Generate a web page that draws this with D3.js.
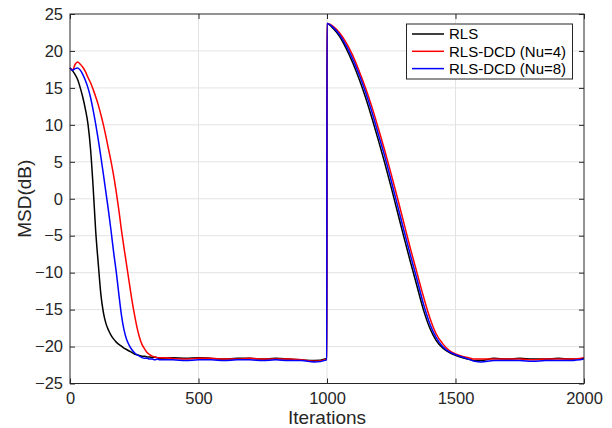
<!DOCTYPE html>
<html>
<head>
<meta charset="utf-8">
<script src="https://cdn.jsdelivr.net/npm/d3@7"></script>
<style>
  body { margin: 0; background: #fff; }
  svg { font-family: "Liberation Sans", Arial, Helvetica, sans-serif; }
</style>
</head>
<body>
<div id="chart"></div>
<script>
// iteration grid (shared by the three curves)
const iterations = [
    0, 10, 20, 30, 40, 50, 60, 70, 80, 90, 100, 110, 120, 130, 140, 150, 160, 170, 180, 190,
    200, 210, 220, 230, 240, 250, 260, 270, 280, 290, 300, 310, 320, 330, 340, 350,
    400, 450, 500, 550, 600, 650, 700, 750, 800, 850, 900, 950, 999,
    1000, 1025, 1050, 1075, 1100, 1125, 1150, 1175, 1200, 1225, 1250, 1275, 1300, 1325, 1350,
    1375, 1400, 1425, 1450, 1475, 1500, 1525, 1550, 1575, 1600,
    1650, 1700, 1750, 1800, 1850, 1900, 1950, 2000
];

const rls = [
    17.7, 17.3, 16.8, 16.1, 15.0, 13.7, 12.1, 10.1, 6.7, 1.6, -4.4, -8.8, -12.9, -15.4, -16.9, -17.8, -18.5, -19.0, -19.4, -19.7,
    -19.95, -20.2, -20.4, -20.6, -20.8, -21.0, -21.1, -21.2, -21.3, -21.3, -21.4, -21.4, -21.5, -21.4, -21.5, -21.6,
    -21.5, -21.6, -21.5, -21.6, -21.7, -21.6, -21.6, -21.7, -21.6, -21.7, -21.8, -21.9, -21.6,
    23.7, 23.0, 21.9, 20.3, 18.4, 16.2, 13.7, 10.9, 7.9, 4.8, 1.5, -1.9, -5.3, -8.6, -11.8,
    -15.0, -17.5, -19.2, -20.2, -20.8, -21.2, -21.5, -21.7, -21.9, -21.9,
    -21.6, -21.7, -21.6, -21.7, -21.7, -21.6, -21.7, -21.6
];

const dcd4 = [
    17.7, 17.4, 18.2, 18.5, 18.2, 17.8, 17.2, 16.4, 15.7, 14.8, 13.8, 12.7, 11.4, 10.0, 8.4, 6.7, 5.0, 3.1, 0.9, -1.5,
    -4.2, -6.6, -8.9, -11.2, -13.5, -15.5, -17.3, -18.7, -19.7, -20.3, -20.8, -21.1, -21.3, -21.4, -21.5, -21.5,
    -21.6, -21.7, -21.6, -21.6, -21.7, -21.7, -21.6, -21.7, -21.7, -21.7, -21.8, -22.0, -21.7,
    23.7, 23.3, 22.4, 21.1, 19.4, 17.3, 15.0, 12.4, 9.5, 6.5, 3.3, 0.0, -3.4, -6.8, -10.0,
    -13.2, -16.1, -18.3, -19.6, -20.5, -21.0, -21.3, -21.5, -21.7, -21.7,
    -21.7, -21.7, -21.7, -21.8, -21.7, -21.7, -21.7, -21.5
];

const dcd8 = [
    17.7, 17.4, 17.6, 17.7, 17.4, 16.8, 16.0, 15.0, 13.7, 12.0, 10.1, 8.0, 5.7, 3.3, 0.8, -1.7, -4.4, -7.3, -9.9, -12.9,
    -15.7, -17.7, -19.0, -19.8, -20.4, -20.8, -21.1, -21.3, -21.5, -21.6, -21.6, -21.7, -21.7, -21.8, -21.7, -21.8,
    -21.8, -21.9, -21.8, -21.8, -21.9, -21.8, -21.8, -21.9, -21.8, -21.9, -21.9, -22.1, -21.8,
    23.7, 23.15, 22.15, 20.7, 18.9, 16.8, 14.4, 11.7, 8.7, 5.7, 2.4, -1.0, -4.4, -7.7, -10.9,
    -14.2, -16.9, -18.8, -20.0, -20.7, -21.1, -21.4, -21.7, -22.0, -22.1,
    -21.9, -21.9, -21.9, -22.0, -21.9, -21.9, -21.9, -21.7
];

const seriesNames = ["RLS", "RLS-DCD (Nu=4)", "RLS-DCD (Nu=8)"];
const seriesColors = ["#000000", "#ff0000", "#0000ff"];
const xTicks = [0, 500, 1000, 1500, 2000];
const yTicks = [-25, -20, -15, -10, -5, 0, 5, 10, 15, 20, 25];

const W = 612, H = 428;
const margin = { top: 14, right: 28, bottom: 44.5, left: 70 };
const width = W - margin.left - margin.right;
const height = H - margin.top - margin.bottom;
const axisColor = "#262626";

const svg = d3.select("#chart").append("svg")
    .attr("width", W)
    .attr("height", H);

const g = svg.append("g")
    .attr("transform", `translate(${margin.left},${margin.top})`);

const x = d3.scaleLinear().domain([0, 2000]).range([0, width]);
const y = d3.scaleLinear().domain([-25, 25]).range([height, 0]);

// grid
g.append("g").selectAll("line")
    .data(xTicks.slice(1, -1))
    .enter().append("line")
    .attr("x1", d => x(d)).attr("x2", d => x(d))
    .attr("y1", 0).attr("y2", height)
    .attr("stroke", "#e3e3e3").attr("stroke-width", 1);

g.append("g").selectAll("line")
    .data(yTicks.slice(1, -1))
    .enter().append("line")
    .attr("x1", 0).attr("x2", width)
    .attr("y1", d => y(d)).attr("y2", d => y(d))
    .attr("stroke", "#e3e3e3").attr("stroke-width", 1);

// curves
const allSeries = [rls, dcd4, dcd8];
const line = d3.line()
    .x((d, i) => x(iterations[i]))
    .y(d => y(d))
    .curve(d3.curveMonotoneX);

allSeries.forEach((vals, k) => {
    g.append("path")
        .datum(vals)
        .attr("fill", "none")
        .attr("stroke", seriesColors[k])
        .attr("stroke-width", 1.5)
        .attr("stroke-linejoin", "round")
        .attr("d", line);
});

// axes, ticks pointing inward on all four sides
function styleAxis(sel) {
    sel.select(".domain").remove();
    sel.selectAll(".tick line").attr("stroke", axisColor);
    sel.selectAll(".tick text")
        .attr("fill", axisColor)
        .style("font-size", "16.5px")
        .style("font-family", "'Liberation Sans', Arial, Helvetica, sans-serif");
}

g.append("g")
    .attr("transform", `translate(0,${height})`)
    .call(d3.axisBottom(x).tickValues(xTicks).tickFormat(d3.format("d"))
        .tickSizeInner(-5).tickSizeOuter(0).tickPadding(9))
    .call(styleAxis);

g.append("g")
    .call(d3.axisLeft(y).tickValues(yTicks).tickFormat(d3.format("d"))
        .tickSizeInner(-5).tickSizeOuter(0).tickPadding(7))
    .call(styleAxis);

g.append("g")
    .call(d3.axisTop(x).tickValues(xTicks).tickSizeInner(-5).tickSizeOuter(0).tickFormat(""))
    .call(styleAxis);

g.append("g")
    .attr("transform", `translate(${width},0)`)
    .call(d3.axisRight(y).tickValues(yTicks).tickSizeInner(-5).tickSizeOuter(0).tickFormat(""))
    .call(styleAxis);

g.append("rect")
    .attr("width", width)
    .attr("height", height)
    .attr("fill", "none")
    .attr("stroke", axisColor)
    .attr("stroke-width", 1);

// axis labels
g.append("text")
    .attr("x", width / 2)
    .attr("y", height + 40)
    .attr("text-anchor", "middle")
    .attr("fill", axisColor)
    .style("font-size", "19px")
    .text("Iterations");

g.append("text")
    .attr("transform", "rotate(-90)")
    .attr("x", -height / 2)
    .attr("y", -39)
    .attr("text-anchor", "middle")
    .attr("fill", axisColor)
    .style("font-size", "19px")
    .text("MSD(dB)");

// legend
const legend = g.append("g")
    .attr("transform", `translate(${width - 177.5},${10})`);

legend.append("rect")
    .attr("width", 166)
    .attr("height", 55)
    .attr("fill", "#fff")
    .attr("stroke", axisColor)
    .attr("stroke-width", 1);

seriesNames.forEach((name, k) => {
    const row = legend.append("g")
        .attr("transform", `translate(0,${10 + k * 17.3})`);
    row.append("line")
        .attr("x1", 5.5).attr("x2", 37.5)
        .attr("stroke", seriesColors[k])
        .attr("stroke-width", 1.5);
    row.append("text")
        .attr("x", 42.5)
        .attr("dy", "0.35em")
        .attr("fill", "#000")
        .style("font-size", "15px")
        .text(name);
});
</script>
</body>
</html>
